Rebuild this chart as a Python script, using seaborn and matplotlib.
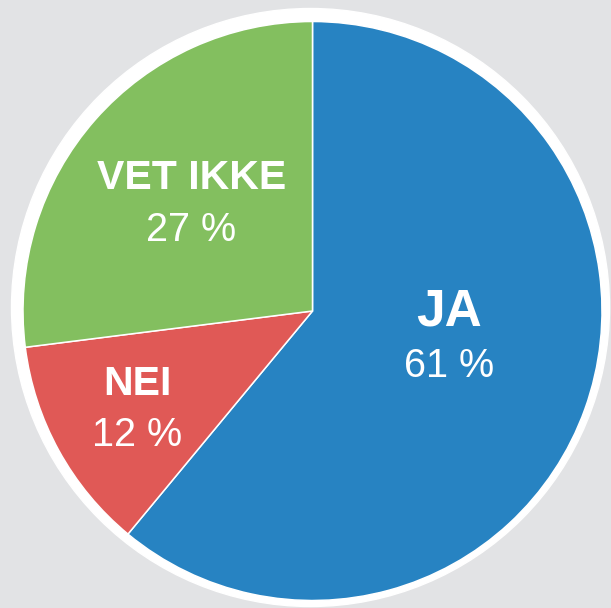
import matplotlib
matplotlib.use("Agg")
import matplotlib.pyplot as plt
import seaborn as sns

# data
labels = ["JA", "NEI", "VET IKKE"]
shares = [61, 12, 27]
colors = ["#2783c2", "#e05956", "#83bf5f"]

sns.set_theme(style="white")
plt.rcParams["font.family"] = ["Liberation Sans", "DejaVu Sans"]

W, H = 611, 608
bg = "#e2e3e5"

fig = plt.figure(figsize=(W / 100, H / 100), dpi=100, facecolor=bg)
ax = fig.add_axes([0, 0, 1, 1])
ax.set_facecolor(bg)


def py(y):
    # pixel row (from top) -> data y
    return H - y


# white rim behind the pie
ax.add_patch(plt.Circle((310.5, py(307.5)), 299, color="white", zorder=1))

wedges, _ = ax.pie(shares, colors=sns.color_palette(colors), startangle=90,
                   counterclock=False, center=(312.5, py(311)), radius=289.5,
                   wedgeprops=dict(edgecolor="white", linewidth=1.1),
                   frame=True)
for w in wedges:
    w.set_zorder(2)
ax.set_xlim(0, W)
ax.set_ylim(0, H)
ax.axis("off")

# label layout: (x center, label baseline, pct baseline, label size)
layout = {
    "JA": (449, 325, 376.7, 37),
    "NEI": (137.5, 395, 445.5, 29.5),
    "VET IKKE": (191.5, 189.3, 240.7, 29.5),
}
for lab, val in zip(labels, shares):
    x, yb, yp, fs = layout[lab]
    ax.text(x, py(yb), lab, ha="center", va="baseline", color="white",
            fontsize=fs, fontweight="bold", zorder=3)
    ax.text(x, py(yp), f"{val} %", ha="center", va="baseline", color="white",
            fontsize=28.5, zorder=3)

fig.savefig("out.png", dpi=100, facecolor=bg)
